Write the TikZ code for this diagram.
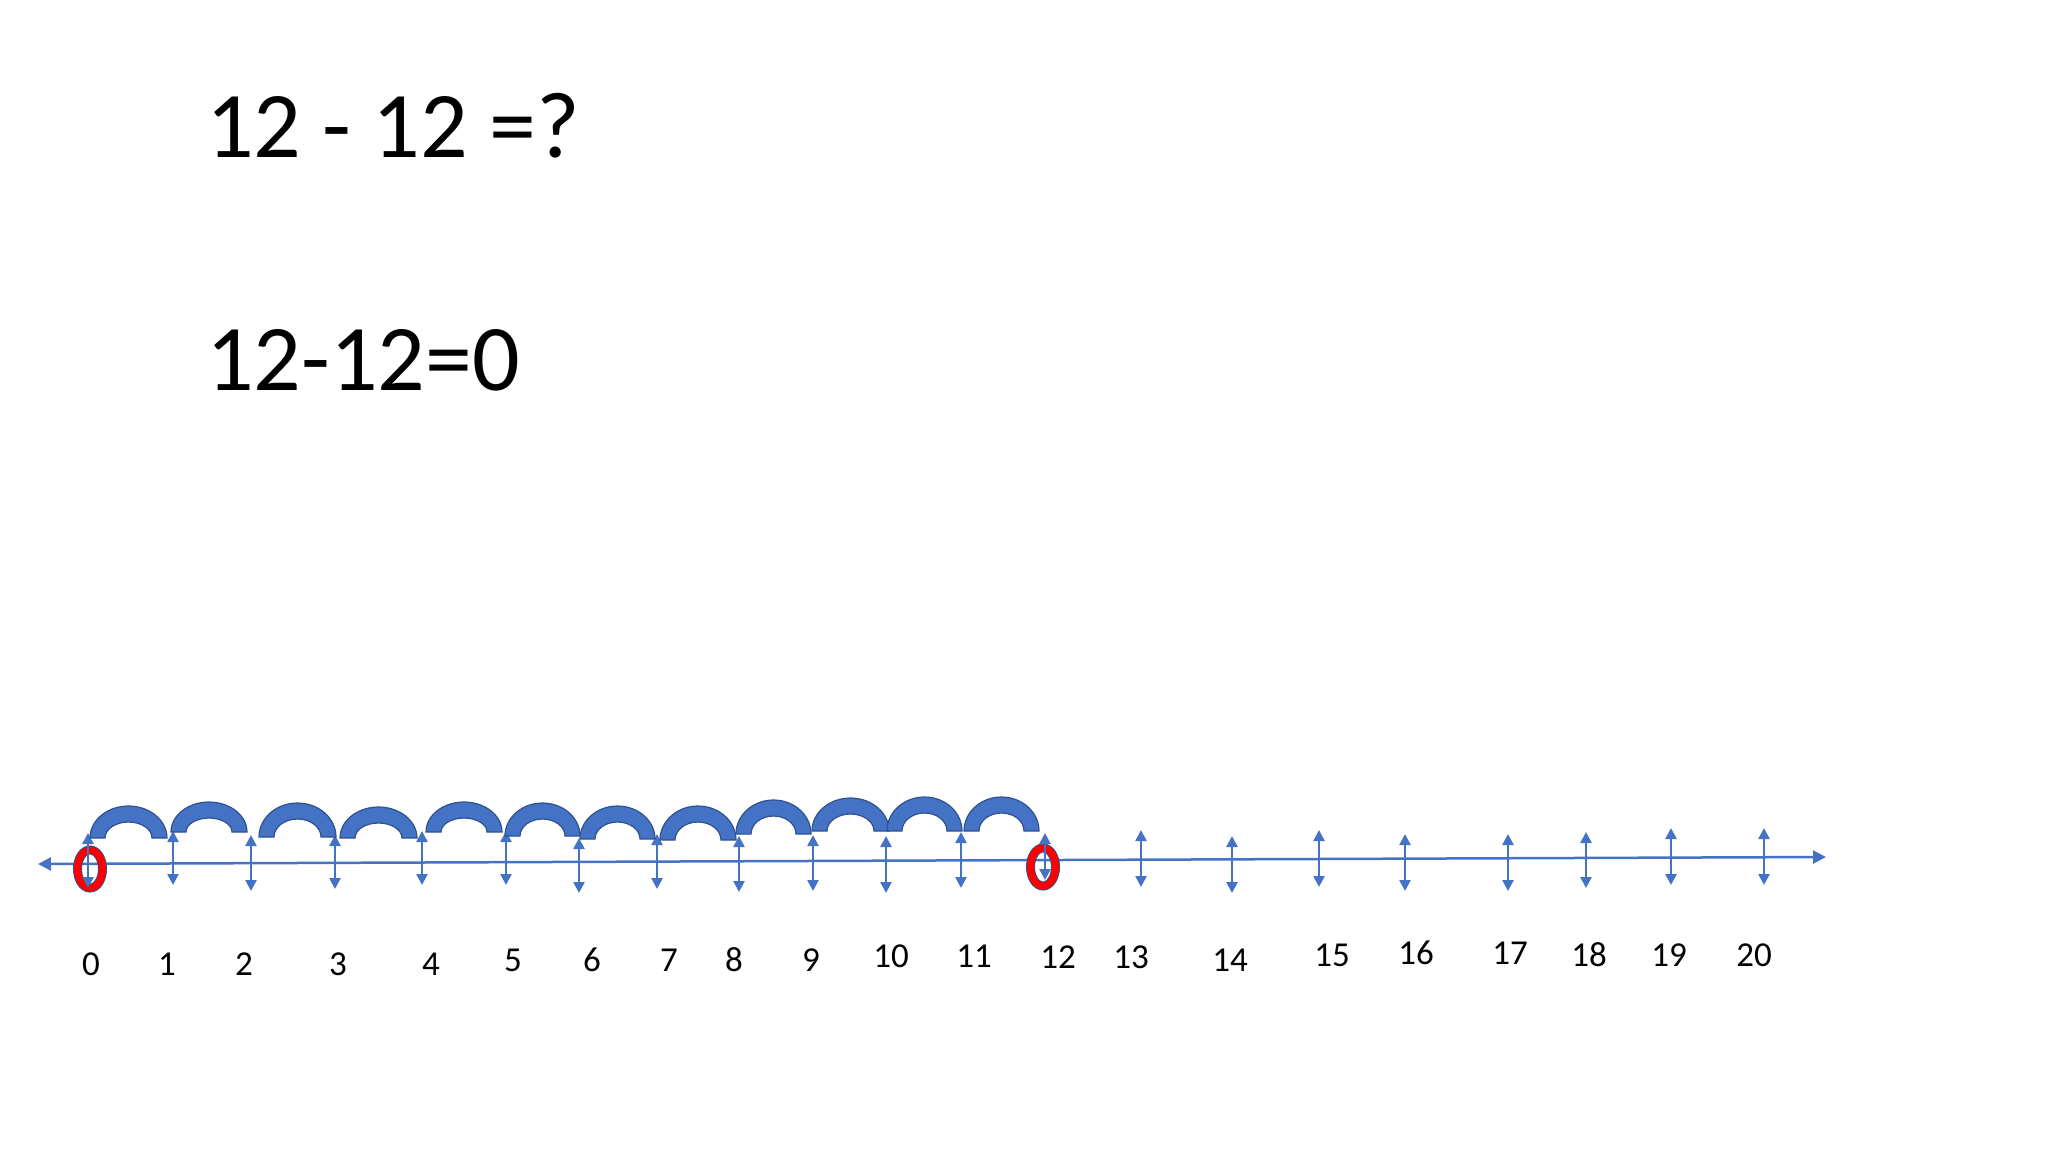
\documentclass[tikz,border=0pt]{standalone}
\usepackage{fontspec}
\setmainfont{Carlito}
\usetikzlibrary{arrows.meta,shapes.geometric}
\definecolor{lineblue}{HTML}{4472C4}
\definecolor{edgeblue}{HTML}{2F528F}
\definecolor{ringred}{HTML}{FF0000}
\begin{document}
\begin{tikzpicture}[
  x=1pt,y=-1pt,
  sum/.style={anchor=base west,inner sep=0pt,font=\fontsize{94}{110}\selectfont},
  num/.style={inner sep=0pt,font=\fontsize{35}{40}\selectfont},
  numline/.style={{Triangle[width=13pt,length=13pt]}-{Triangle[width=13pt,length=13pt]},line width=2.5pt,draw=lineblue},
  tickarrow/.style={{Triangle[width=11pt,length=11pt]}-{Triangle[width=11pt,length=11pt]},line width=2.5pt,draw=lineblue},
  hop/.style={fill=lineblue,draw=edgeblue,line width=1.2pt},
  ring/.style={ellipse,draw=edgeblue,line width=1pt,double=ringred,double distance=7pt,minimum width=25pt,minimum height=38pt,inner sep=0pt}
]
\useasboundingbox (0,0) rectangle (2048,1152);
\node[sum] (q) at (206,157) {12 - 12 =?};
\node[sum] (a) at (206,390) {12-12=0};
\coordinate (west) at (38,864);
\coordinate (east) at (1826,857);
\draw[numline] (west) -- (east);
\node[ring] (r0) at (90,869) {};
\node[ring] (r12) at (1043,867) {};
\foreach \n/\x/\ya/\yb in {0/88/833/888, 1/173/831/885, 2/251/835/891, 3/335/835/889, 4/422/831/885, 5/506/831/885, 6/579/838/893, 7/657/834/889, 8/739/836/892, 9/813/835/891, 10/886/836/893, 11/961/832/888, 12/1045/833/880, 13/1141/830/887, 14/1232/836/893, 15/1319/830/887, 16/1405/834/891, 17/1508/834/891, 18/1586/832/888, 19/1671/828/885, 20/1764/828/885}{
  \coordinate (t\n) at (\x,\ya);
  \coordinate (b\n) at (\x,\yb);
  \draw[tickarrow] (t\n) -- (b\n);
}
\foreach \xa/\xb/\yb/\yt in {90/167/838/806, 171/247/832/802, 259/336/837/803, 340/417/838/807, 426/502/832/802, 505/580/836/803, 580/655/839/806, 660/736/840/806, 736/811/834/800, 812/889/831/798, 887/962/831/797, 964/1039/831/797}{
  \pgfmathsetmacro\rx{(\xb-\xa)/2}
  \pgfmathsetmacro\ry{\yb-\yt}
  \draw[hop] (\xa,\yb) arc[start angle=180,end angle=360,x radius=\rx,y radius=\ry] -- ++(-15,0)
    arc[start angle=360,end angle=180,x radius=\rx-15,y radius=\ry-16] -- cycle;
}
\foreach \n/\x/\y in {0/91/964, 1/167/964, 2/244/964, 3/338/964, 4/431/964, 5/513/960, 6/592/960, 7/669/960, 8/734/960, 9/811/960, 10/891/956, 11/974/956, 12/1058/957, 13/1131/957, 14/1230/960, 15/1332/955, 16/1416/953, 17/1510/953, 18/1589/955, 19/1669/955, 20/1754/955}{
  \node[num] (l\n) at (\x,\y) {\n};
}
\end{tikzpicture}
\end{document}
